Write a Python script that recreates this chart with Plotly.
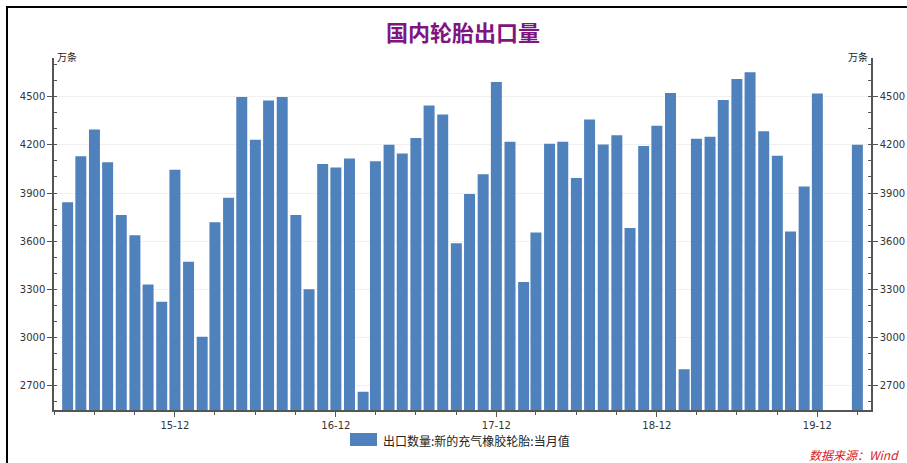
import plotly.graph_objects as go

months = [
    "2015-04", "2015-05", "2015-06", "2015-07", "2015-08", "2015-09", "2015-10", "2015-11", "2015-12",
    "2016-01", "2016-02", "2016-03", "2016-04", "2016-05", "2016-06", "2016-07", "2016-08", "2016-09",
    "2016-10", "2016-11", "2016-12",
    "2017-01", "2017-02", "2017-03", "2017-04", "2017-05", "2017-06", "2017-07", "2017-08", "2017-09",
    "2017-10", "2017-11", "2017-12",
    "2018-01", "2018-02", "2018-03", "2018-04", "2018-05", "2018-06", "2018-07", "2018-08", "2018-09",
    "2018-10", "2018-11", "2018-12",
    "2019-01", "2019-02", "2019-03", "2019-04", "2019-05", "2019-06", "2019-07", "2019-08", "2019-09",
    "2019-10", "2019-11", "2019-12",
    "2020-01", "2020-02", "2020-03",
]
exports = [
    3842, 4128, 4295, 4092, 3763, 3637, 3331, 3223, 4045,
    3472, 3006, 3718, 3871, 4498, 4231, 4475, 4498, 3763,
    3302, 4080, 4059,
    4115, 2663, 4097, 4200, 4146, 4243, 4444, 4388, 3588,
    3894, 4016, 4591,
    4219, 3346, 3654, 4206, 4219, 3993, 4357, 4202, 4260,
    3683, 4192, 4318,
    4523, 2803, 4237, 4250, 4479, 4610, 4651, 4285, 4132,
    3660, 3941, 4519,
    None, None, 4200,
]
tick_dates = ["2015-12-01", "2016-12-01", "2017-12-01", "2018-12-01", "2019-12-01"]
tick_labels = ["15-12", "16-12", "17-12", "18-12", "19-12"]
y_ticks = [2700, 3000, 3300, 3600, 3900, 4200, 4500]

series_name = "出口数量:新的充气橡胶轮胎:当月值"
title_text = "国内轮胎出口量"
unit_text = "万条"
source_text = "数据来源：Wind"

W, H = 907, 463
L, R, T, B = 54, 36, 58, 53
pw, ph = W - L - R, H - T - B


def px(x):
    return (x - L) / pw


def py(y):
    return (H - B - y) / ph


x_dates = [m + "-01" for m in months]
bar_width_ms = 0.82 * 30.44 * 86400000

BLUE = "#4F81BD"
AXIS = "#555555"
FONT = "DejaVu Sans, Noto Sans CJK SC, sans-serif"

fig = go.Figure()
fig.add_trace(go.Bar(
    x=x_dates, y=exports, name=series_name,
    marker=dict(color=BLUE, line=dict(width=0)),
    width=[bar_width_ms] * len(x_dates),
    showlegend=False,
))
# invisible helper so the right-hand axis is drawn
fig.add_trace(go.Scatter(
    x=[x_dates[0]], y=[exports[0]], yaxis="y2", mode="markers",
    marker=dict(opacity=0), showlegend=False, hoverinfo="skip",
))

y_range = [2550, 4740]
common_y = dict(
    range=y_range, tickmode="array", tickvals=y_ticks,
    ticks="outside", ticklen=5, tickwidth=1, tickcolor=AXIS,
    showline=True, linecolor=AXIS, linewidth=1.5,
    tickfont=dict(family=FONT, size=10, color="#333333"),
    zeroline=False, automargin=False,
    minor=dict(tickmode="linear", tick0=2600, dtick=100, ticks="inside",
               ticklen=3, tickcolor=AXIS, showgrid=False),
)

fig.update_layout(
    width=W, height=H,
    margin=dict(l=L, r=R, t=T, b=B),
    paper_bgcolor="white", plot_bgcolor="white",
    xaxis=dict(
        type="date",
        range=["2015-03-01", "2020-04-01"],
        tickmode="array", tickvals=tick_dates, ticktext=tick_labels,
        ticks="outside", ticklen=5, tickwidth=1, tickcolor=AXIS,
        showline=True, linecolor=AXIS, linewidth=1.5,
        showgrid=False, zeroline=False, automargin=False,
        tickfont=dict(family=FONT, size=10, color="#333333"),
        minor=dict(tickmode="linear", tick0="2015-03-01", dtick="M3",
                   ticks="outside", ticklen=3, tickcolor=AXIS, showgrid=False),
    ),
    yaxis=dict(showgrid=True, gridcolor="#f0f0f0", gridwidth=1, side="left", **common_y),
    yaxis2=dict(overlaying="y", side="right", showgrid=False, **common_y),
    shapes=[
        dict(type="rect", xref="paper", yref="paper",
             x0=px(7), x1=px(912), y0=py(470), y1=py(7),
             line=dict(color="black", width=2), fillcolor="rgba(0,0,0,0)", layer="above"),
        dict(type="rect", xref="paper", yref="paper",
             x0=px(350), x1=px(377), y0=py(446), y1=py(433),
             line=dict(width=0), fillcolor=BLUE),
    ],
    annotations=[
        dict(text="<b>" + title_text + "</b>", xref="paper", yref="paper",
             x=px(463), y=py(31), xanchor="center", yanchor="middle", showarrow=False,
             font=dict(family="Noto Sans CJK SC", size=22, color="#80157F")),
        dict(text=unit_text, xref="paper", yref="paper",
             x=px(55), y=py(57), xanchor="left", yanchor="middle", showarrow=False,
             font=dict(family="Noto Sans CJK SC", size=10, color="#222222")),
        dict(text=unit_text, xref="paper", yref="paper",
             x=px(870), y=py(57), xanchor="right", yanchor="middle", showarrow=False,
             font=dict(family="Noto Sans CJK SC", size=10, color="#222222")),
        dict(text=series_name, xref="paper", yref="paper",
             x=px(381), y=py(440), xanchor="left", yanchor="middle", showarrow=False,
             font=dict(family="Noto Sans CJK SC", size=12, color="#222222")),
        dict(text="<i>" + source_text + "</i>", xref="paper", yref="paper",
             x=px(901), y=py(454), xanchor="right", yanchor="middle", showarrow=False,
             font=dict(family="Noto Sans CJK SC", size=12, color="#D7191C")),
    ],
)

fig.write_html("out.html")
